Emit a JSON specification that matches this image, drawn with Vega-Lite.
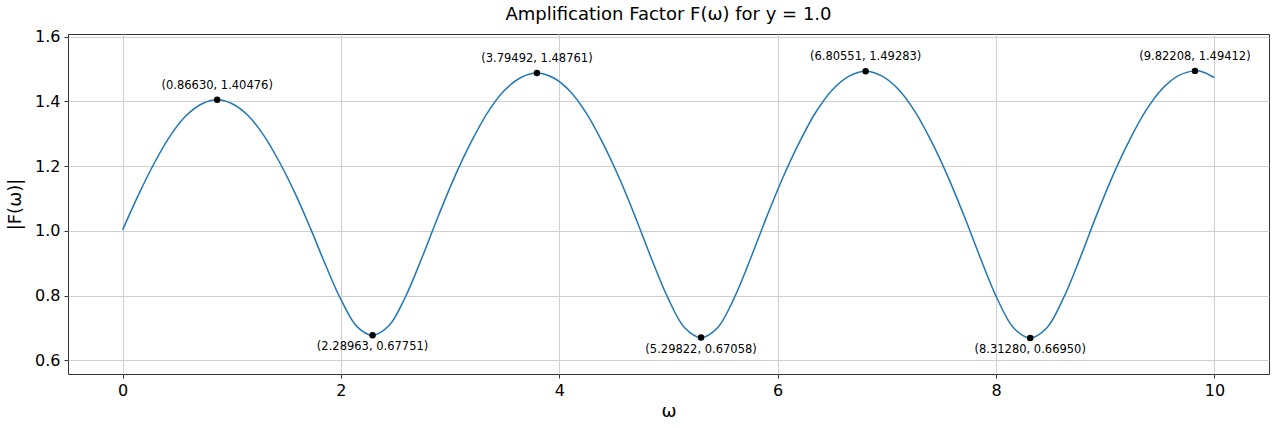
{
  "$schema": "https://vega.github.io/schema/vega-lite/v6.json",
  "autosize": "none",
  "width": 1201,
  "height": 340,
  "padding": {"left": 68, "top": 34, "right": 11, "bottom": 54},
  "background": "white",
  "config": {
    "font": "DejaVu Sans",
    "view": {"stroke": "#333333", "strokeWidth": 1},
    "axis": {
      "labelFont": "DejaVu Sans",
      "titleFont": "DejaVu Sans",
      "labelColor": "black",
      "titleColor": "black",
      "labelFontSize": 16,
      "titleFontSize": 18,
      "titleFontWeight": "normal",
      "domain": false,
      "tickColor": "#333333",
      "tickSize": 4,
      "gridColor": "#cfcfcf",
      "gridWidth": 1
    },
    "title": {"font": "DejaVu Sans", "fontSize": 18, "fontWeight": "normal", "color": "black"}
  },
  "title": {"text": "Amplification Factor F(ω) for y = 1.0", "offset": 5},
  "datasets": {
    "curve": [
      {"w": 0.0, "F": 1.003},
      {"w": 0.154, "F": 1.1175},
      {"w": 0.297, "F": 1.2135},
      {"w": 0.439, "F": 1.295},
      {"w": 0.581, "F": 1.3553},
      {"w": 0.724, "F": 1.3917},
      {"w": 0.8663, "F": 1.40476},
      {"w": 1.008, "F": 1.3917},
      {"w": 1.151, "F": 1.3553},
      {"w": 1.293, "F": 1.295},
      {"w": 1.435, "F": 1.2135},
      {"w": 1.578, "F": 1.1175},
      {"w": 1.72, "F": 1.0084},
      {"w": 1.862, "F": 0.8921},
      {"w": 2.005, "F": 0.7844},
      {"w": 2.147, "F": 0.7044},
      {"w": 2.2896, "F": 0.67751},
      {"w": 2.44, "F": 0.7075},
      {"w": 2.591, "F": 0.7966},
      {"w": 2.741, "F": 0.9165},
      {"w": 2.892, "F": 1.0461},
      {"w": 3.042, "F": 1.1676},
      {"w": 3.193, "F": 1.2746},
      {"w": 3.343, "F": 1.3653},
      {"w": 3.494, "F": 1.4325},
      {"w": 3.644, "F": 1.473},
      {"w": 3.7949, "F": 1.48761},
      {"w": 3.945, "F": 1.4729},
      {"w": 4.096, "F": 1.4321},
      {"w": 4.246, "F": 1.3642},
      {"w": 4.396, "F": 1.2727},
      {"w": 4.547, "F": 1.1649},
      {"w": 4.697, "F": 1.0423},
      {"w": 4.847, "F": 0.9116},
      {"w": 4.998, "F": 0.7907},
      {"w": 5.148, "F": 0.7008},
      {"w": 5.2982, "F": 0.67058},
      {"w": 5.449, "F": 0.701},
      {"w": 5.6, "F": 0.7915},
      {"w": 5.75, "F": 0.9131},
      {"w": 5.901, "F": 1.0447},
      {"w": 6.052, "F": 1.168},
      {"w": 6.203, "F": 1.2766},
      {"w": 6.353, "F": 1.3687},
      {"w": 6.504, "F": 1.4369},
      {"w": 6.655, "F": 1.478},
      {"w": 6.8055, "F": 1.49283},
      {"w": 6.956, "F": 1.478},
      {"w": 7.107, "F": 1.4368},
      {"w": 7.258, "F": 1.3685},
      {"w": 7.408, "F": 1.2763},
      {"w": 7.559, "F": 1.1676},
      {"w": 7.71, "F": 1.0441},
      {"w": 7.861, "F": 0.9124},
      {"w": 8.011, "F": 0.7905},
      {"w": 8.162, "F": 0.7},
      {"w": 8.3128, "F": 0.6695},
      {"w": 8.464, "F": 0.7},
      {"w": 8.615, "F": 0.7907},
      {"w": 8.766, "F": 0.9128},
      {"w": 8.916, "F": 1.0447},
      {"w": 9.067, "F": 1.1684},
      {"w": 9.218, "F": 1.2772},
      {"w": 9.369, "F": 1.3696},
      {"w": 9.52, "F": 1.4381},
      {"w": 9.671, "F": 1.4793},
      {"w": 9.8221, "F": 1.49412},
      {"w": 9.9, "F": 1.49},
      {"w": 10.0, "F": 1.4734}
    ],
    "extrema": [
      {"w": 0.8663, "F": 1.40476, "kind": "max", "label": "(0.86630, 1.40476)"},
      {"w": 2.28963, "F": 0.67751, "kind": "min", "label": "(2.28963, 0.67751)"},
      {"w": 3.79492, "F": 1.48761, "kind": "max", "label": "(3.79492, 1.48761)"},
      {"w": 5.29822, "F": 0.67058, "kind": "min", "label": "(5.29822, 0.67058)"},
      {"w": 6.80551, "F": 1.49283, "kind": "max", "label": "(6.80551, 1.49283)"},
      {"w": 8.3128, "F": 0.6695, "kind": "min", "label": "(8.31280, 0.66950)"},
      {"w": 9.82208, "F": 1.49412, "kind": "max", "label": "(9.82208, 1.49412)"}
    ]
  },
  "encoding": {
    "x": {
      "field": "w",
      "type": "quantitative",
      "scale": {"domain": [-0.5, 10.5], "nice": false, "zero": false},
      "axis": {"values": [0, 2, 4, 6, 8, 10], "title": "ω", "titlePadding": 4, "labelPadding": 4}
    },
    "y": {
      "field": "F",
      "type": "quantitative",
      "scale": {"domain": [0.558, 1.608], "nice": false, "zero": false},
      "axis": {"values": [0.6, 0.8, 1.0, 1.2, 1.4, 1.6], "format": ".1f", "title": "|F(ω)|", "titlePadding": 10, "labelPadding": 4}
    }
  },
  "layer": [
    {
      "data": {"name": "curve"},
      "mark": {"type": "line", "color": "#1f77b4", "strokeWidth": 1.5, "interpolate": "catmull-rom", "clip": true}
    },
    {
      "data": {"name": "extrema"},
      "mark": {"type": "point", "filled": true, "color": "black", "opacity": 1, "size": 42}
    },
    {
      "data": {"name": "extrema"},
      "transform": [{"filter": "datum.kind == 'max'"}],
      "mark": {"type": "text", "fontSize": 11.5, "color": "black", "dy": -14, "align": "center", "baseline": "middle"},
      "encoding": {"text": {"field": "label"}}
    },
    {
      "data": {"name": "extrema"},
      "transform": [{"filter": "datum.kind == 'min'"}],
      "mark": {"type": "text", "fontSize": 11.5, "color": "black", "dy": 12, "align": "center", "baseline": "middle"},
      "encoding": {"text": {"field": "label"}}
    }
  ]
}
